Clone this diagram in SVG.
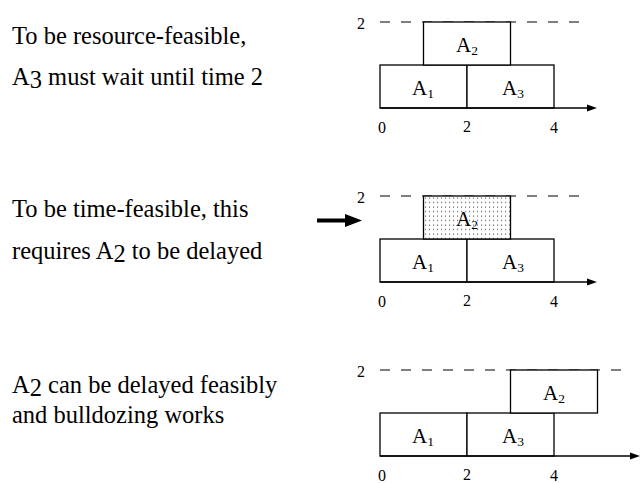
<svg xmlns="http://www.w3.org/2000/svg" width="644" height="483" viewBox="0 0 644 483">
<style>
.cap{font-family:'Liberation Serif','Times New Roman',serif;font-size:24.5px;fill:#000}
.lbl{font-family:'Liberation Serif','Times New Roman',serif;font-size:21px;fill:#000}
.sub{font-size:13.5px}
.tick{font-family:'Liberation Serif','Times New Roman',serif;font-size:16px;fill:#000;text-anchor:middle}
.box{fill:#fff;stroke:#000;stroke-width:1.3}
.dash{stroke:#555;stroke-width:1.5;stroke-dasharray:10 11;fill:none}
.axis{stroke:#000;stroke-width:1.3;fill:none}
.head{fill:#000}
</style>
<defs>
<pattern id="dots" patternUnits="userSpaceOnUse" x="424" y="196" width="4" height="4.5">
<rect width="4" height="4.5" fill="#fff"/>
<rect x="1" y="1.5" width="1.1" height="1.1" fill="#555"/>
</pattern>
</defs>

<!-- Panel 1 -->
<g id="text1">
<text class="cap" x="12" y="44">To be resource-feasible,</text>
<text class="cap" x="12" y="85">A<tspan dy="3">3</tspan><tspan dy="-3"> must wait until time 2</tspan></text>
</g>
<g id="panel1">
<line class="dash" x1="380" y1="22" x2="587" y2="22"/>
<text class="tick" x="361" y="29">2</text>
<g id="p1-A1"><rect class="box" x="380" y="65" width="87" height="43"/><text class="lbl" x="412" y="95">A<tspan class="sub" dy="3">1</tspan></text></g>
<g id="p1-A3"><rect class="box" x="467" y="65" width="87" height="43"/><text class="lbl" x="502" y="95">A<tspan class="sub" dy="3">3</tspan></text></g>
<g id="p1-A2"><rect class="box" x="423.5" y="22" width="87" height="43"/><text class="lbl" x="456" y="52">A<tspan class="sub" dy="3">2</tspan></text></g>
<text class="tick" x="382" y="133">0</text>
<text class="tick" x="467" y="132">2</text>
<text class="tick" x="554" y="133">4</text>
</g>

<!-- Panel 2 -->
<g id="text2">
<text class="cap" x="12" y="217">To be time-feasible, this</text>
<text class="cap" x="12" y="259">requires A<tspan dy="3">2</tspan><tspan dy="-3"> to be delayed</tspan></text>
</g>
<g id="panel2">
<line class="dash" x1="380" y1="196" x2="587" y2="196"/>
<text class="tick" x="361" y="203">2</text>
<g id="p2-A1"><rect class="box" x="380" y="239" width="87" height="43"/><text class="lbl" x="412" y="269">A<tspan class="sub" dy="3">1</tspan></text></g>
<g id="p2-A3"><rect class="box" x="467" y="239" width="87" height="43"/><text class="lbl" x="502" y="269">A<tspan class="sub" dy="3">3</tspan></text></g>
<g id="p2-A2"><rect class="box" x="423.5" y="196" width="87" height="43" style="fill:url(#dots)"/><text class="lbl" x="456" y="226">A<tspan class="sub" dy="3">2</tspan></text></g>
<text class="tick" x="382" y="307">0</text>
<text class="tick" x="467" y="306">2</text>
<text class="tick" x="554" y="307">4</text>
</g>

<!-- Panel 3 -->
<g id="text3">
<text class="cap" x="12" y="393">A<tspan dy="3">2</tspan><tspan dy="-3"> can be delayed feasibly</tspan></text>
<text class="cap" x="12" y="423">and bulldozing works</text>
</g>
<g id="panel3">
<line class="dash" x1="380" y1="370" x2="632" y2="370"/>
<text class="tick" x="361" y="377">2</text>
<g id="p3-A1"><rect class="box" x="380" y="413" width="87" height="43"/><text class="lbl" x="412" y="443">A<tspan class="sub" dy="3">1</tspan></text></g>
<g id="p3-A3"><rect class="box" x="467" y="413" width="87" height="43"/><text class="lbl" x="502" y="443">A<tspan class="sub" dy="3">3</tspan></text></g>
<g id="p3-A2"><rect class="box" x="510.5" y="370" width="87" height="43"/><text class="lbl" x="543" y="400">A<tspan class="sub" dy="3">2</tspan></text></g>
<text class="tick" x="382" y="481">0</text>
<text class="tick" x="467" y="480">2</text>
<text class="tick" x="554" y="481">4</text>
</g>

<g id="connectors">
<line class="axis" x1="380" y1="108" x2="589" y2="108"/>
<polygon class="head" points="587,104.5 597,108 587,111.5"/>
<line class="axis" x1="380" y1="282" x2="589" y2="282"/>
<polygon class="head" points="587,278.5 597,282 587,285.5"/>
<line class="axis" x1="380" y1="456" x2="632" y2="456"/>
<polygon class="head" points="630,452.5 640,456 630,459.5"/>
<rect x="317" y="218.5" width="30" height="4" fill="#000"/>
<polygon class="head" points="345,214 362,220.5 345,227"/>
</g>
</svg>
